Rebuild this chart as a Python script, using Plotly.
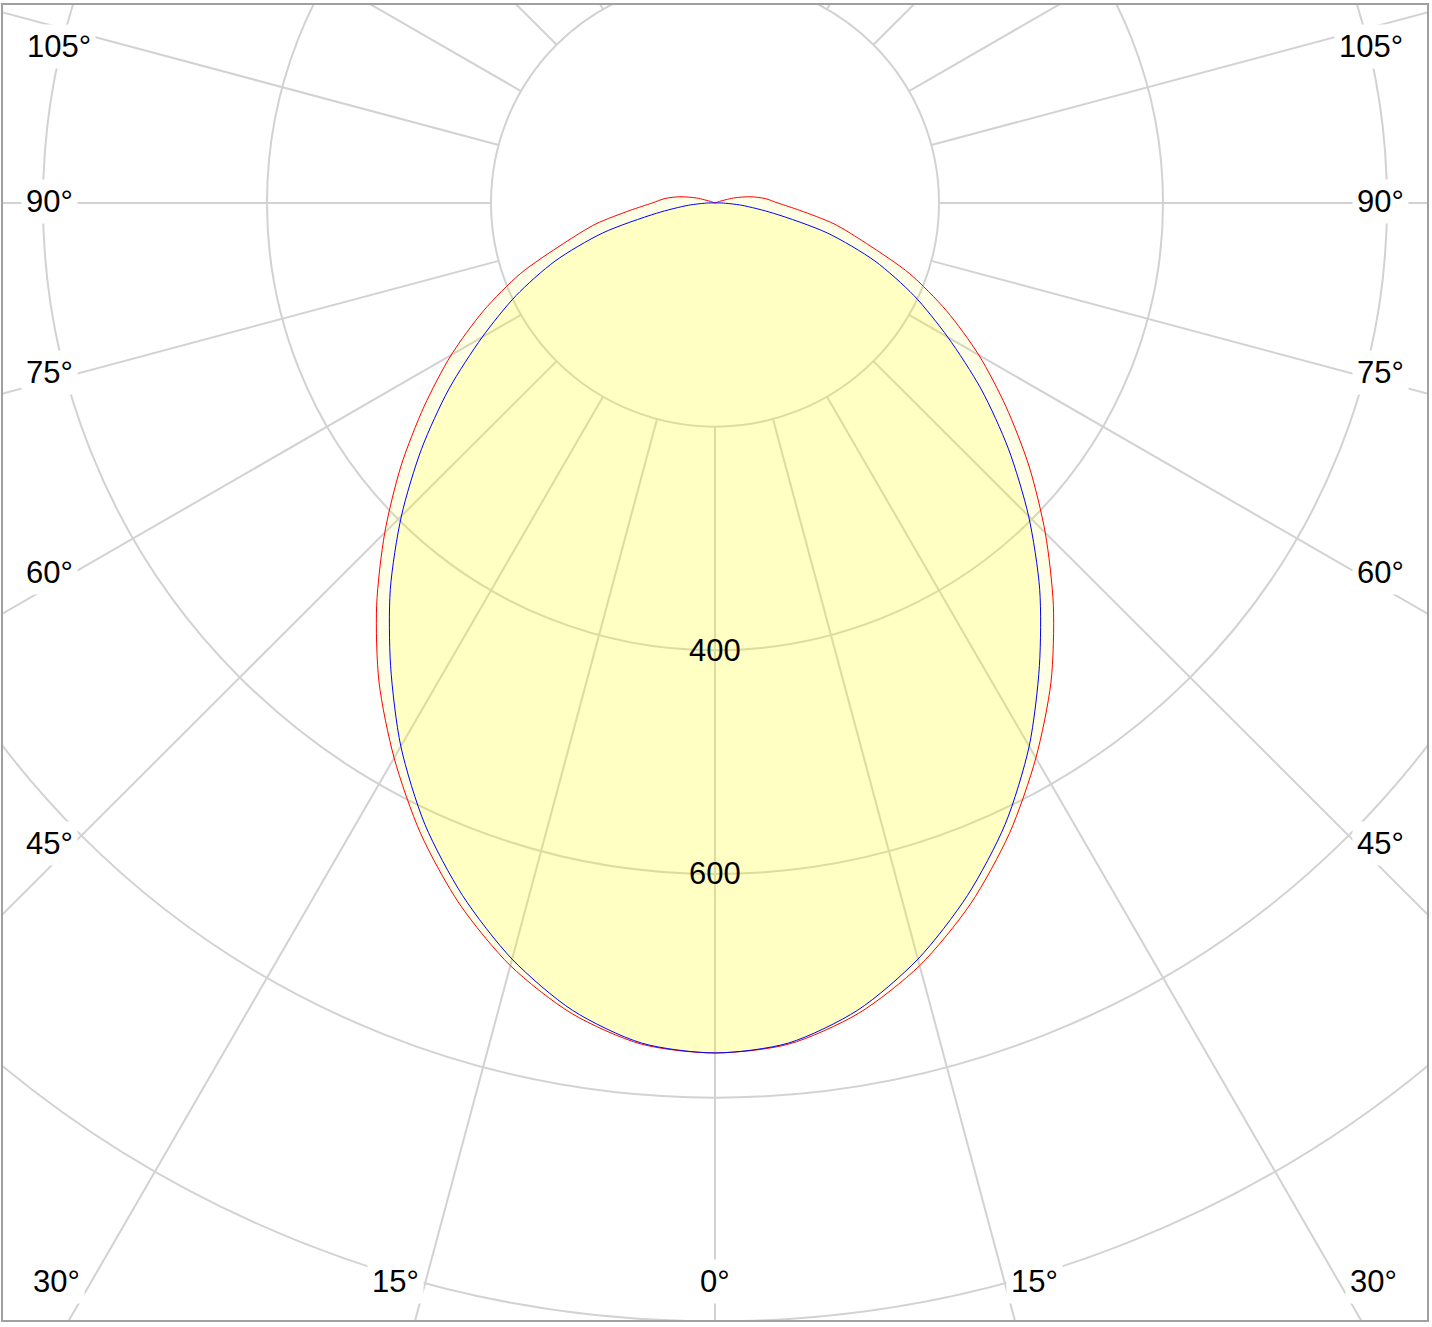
import numpy as np
import plotly.graph_objects as go

# luminous intensity (cd) per gamma angle, both planes are symmetric
gamma_c0 = [0, 5, 10, 15, 20, 25, 30, 35, 40, 45, 50, 55, 60, 65, 70, 75,
            80, 85, 90, 95, 100, 105, 110, 115]
cd_c0 = [760, 755, 736, 706, 667, 622, 573, 523, 470, 417, 366, 317, 272,
         228, 185, 140, 108, 76, 56, 45, 32, 17, 3, 0]

gamma_c90 = [0, 5, 10, 15, 20, 25, 30, 35, 40, 45, 50, 55, 60, 65, 70, 75,
             80, 85, 90, 95]
cd_c90 = [760, 754, 733, 700, 659, 613, 561, 505, 451, 396, 342, 290, 240,
          196, 152, 104, 53, 24, 6, 0]

# polar grid
rings = [200, 400, 600, 800, 1000, 1200]
spokes = [0, 15, 30, 45, 60, 75, 90, 105, 120, 135, 150, 165, 180]
ring_labels = ["400", "600"]
ring_label_values = [400, 600]
angle_labels = ["105°", "90°", "75°", "60°", "45°", "30°", "15°", "0°"]


def to_xy(gamma, cd):
    # curve drawn on both sides of the nadir line, 0° pointing down
    th = np.radians(gamma)
    r = np.asarray(cd, dtype=float)
    xs, ys = r * np.sin(th), -r * np.cos(th)
    x = np.concatenate([-xs[::-1], xs[1:]])
    y = np.concatenate([ys[::-1], ys[1:]])
    return x, y


fig = go.Figure()

x0, y0 = to_xy(gamma_c0, cd_c0)
fig.add_trace(go.Scatter(x=x0, y=y0, name='C0-C180', mode='lines',
                         fill='toself', fillcolor='rgba(255,255,0,0.10)',
                         line=dict(color='#ff0000', width=1, shape='spline',
                                   smoothing=0.8)))

x90, y90 = to_xy(gamma_c90, cd_c90)
fig.add_trace(go.Scatter(x=x90, y=y90, name='C90-C270', mode='lines',
                         fill='toself', fillcolor='rgba(255,250,0,0.15)',
                         line=dict(color='#0000ff', width=1, shape='spline',
                                   smoothing=0.8)))

grid = dict(color='#d2d2d2', width=2)
shapes = []
for r in rings:
    shapes.append(dict(type='circle', xref='x', yref='y', x0=-r, x1=r,
                       y0=-r, y1=r, line=grid, layer='below'))
for a in spokes:
    th = np.radians(a)
    for side in (-1, 1):
        shapes.append(dict(type='line', xref='x', yref='y',
                           x0=side * 200 * np.sin(th), y0=-200 * np.cos(th),
                           x1=side * 1300 * np.sin(th), y1=-1300 * np.cos(th),
                           line=grid, layer='below'))

font = dict(family='Arial, Liberation Sans, sans-serif', size=31, color='black')
annotations = []
for txt, v in zip(ring_labels, ring_label_values):
    annotations.append(dict(x=0, y=-v, text=txt, showarrow=False, font=font))

# label spots along the frame
side_pos = [(586, 140), (594, 1), (594, -152), (594, -330), (594, -573)]
for txt, (px, py) in zip(angle_labels[:5], side_pos):
    for s in (-1, 1):
        annotations.append(dict(x=s * px, y=py, text=txt, showarrow=False,
                                font=font, bgcolor='white', borderpad=4))
bottom_pos = [588, 285, 0]
for txt, px in zip(angle_labels[5:], bottom_pos):
    for s in ((-1, 1) if px else (1,)):
        annotations.append(dict(x=s * px, y=-964, text=txt, showarrow=False,
                                font=font, bgcolor='white', borderpad=4))

axis = dict(showgrid=False, zeroline=False, showticklabels=False, ticks='',
            showline=True, mirror=True, linecolor='#a0a0a0', linewidth=1.5)

fig.update_layout(width=1432, height=1327,
                  margin=dict(l=3, r=5, t=3, b=7),
                  plot_bgcolor='white', paper_bgcolor='white',
                  showlegend=False,
                  shapes=shapes, annotations=annotations,
                  xaxis=dict(range=[-635.7, 635.7], **axis),
                  yaxis=dict(range=[-998.8, 177], **axis))

# drop the default page margin so the frame sits where the original does
fig.write_html("out.html", config={'displayModeBar': False},
               post_script="document.body.style.margin='0';")
